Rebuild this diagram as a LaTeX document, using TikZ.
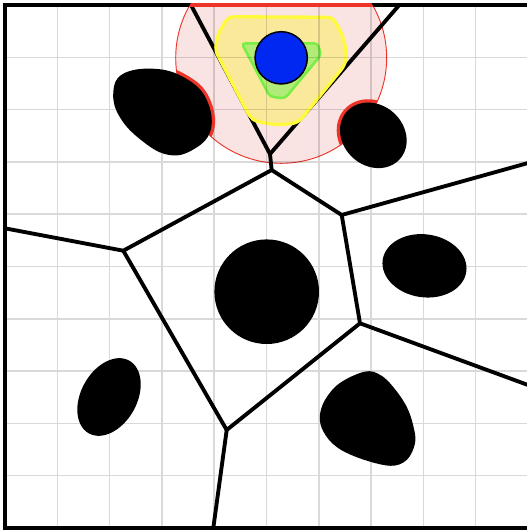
\documentclass[tikz,border=0pt]{standalone}
\definecolor{pinkfill}{RGB}{249,227,227}
\definecolor{redline}{RGB}{236,52,40}
\definecolor{yelstroke}{RGB}{255,250,60}
\definecolor{yelfill}{RGB}{250,233,155}
\definecolor{grnstroke}{RGB}{120,238,70}
\definecolor{grnfill}{RGB}{178,236,120}
\definecolor{bluefill}{RGB}{0,40,240}
\tikzset{
  voro/.style={draw=black, line width=2.1pt, line join=round},
  obstacle/.style={fill=black},
  redhl/.style={draw=redline, line width=3.6pt},
  gridline/.style={draw=black, draw opacity=0.15, line width=0.8pt},
  framebox/.style={draw=black, line width=2.2pt},
}
\begin{document}
\begin{tikzpicture}
\useasboundingbox (-0.0956,-0.0574) rectangle (9.981,10.096);
\fill[white] (-0.0956,-0.0574) rectangle (9.981,10.096);

\coordinate (C) at (5.281,8.990);

% pink circle region
\begin{scope}
  \clip (0,0) rectangle (10,10);
  \fill[pinkfill] (C) circle (2.017);
  \draw[redline, line width=0.5pt] (C) circle (2.017);
\end{scope}

% Voronoi vertices
\coordinate (tl) at (3.556,10);
\coordinate (tr) at (7.539,10);
\coordinate (vt) at (5.067,7.151);
\coordinate (vt2) at (5.099,6.845);
\coordinate (vl) at (2.262,5.302);
\coordinate (le) at (0,5.730);
\coordinate (vr) at (6.438,5.985);
\coordinate (re) at (10,6.979);
\coordinate (vrb) at (6.788,3.914);
\coordinate (rbe) at (10,2.734);
\coordinate (vb) at (4.239,1.874);
\coordinate (be) at (3.983,0);

\draw[voro] (tl) -- (vt);
\draw[voro] (tr) -- (vt);
\draw[voro] (vt) -- (vt2);
\draw[voro] (vt2) -- (vl);
\draw[voro] (vt2) -- (vr);
\draw[voro] (le) -- (vl);
\draw[voro] (vl) -- (vb);
\draw[voro] (vr) -- (re);
\draw[voro] (vr) -- (vrb);
\draw[voro] (vrb) -- (rbe);
\draw[voro] (vrb) -- (vb);
\draw[voro] (vb) -- (be);

% yellow region
\draw[draw=yelstroke, fill=yelfill, line width=1.8pt, rounded corners=3pt]
  (4.270,9.776) -- (6.266,9.765) -- (6.438,9.459) -- (6.533,9.107) -- (6.501,8.853)
  -- (5.608,7.750) -- (5.226,7.706) -- (4.813,7.769) -- (4.685,7.853)
  -- (4.015,9.140) -- (4.078,9.459) -- cycle;

% green region
\draw[draw=grnstroke, fill=grnfill, line width=1.4pt, rounded corners=2pt]
  (4.526,9.268) -- (5.979,9.268) -- (6.042,9.044) -- (5.354,8.216) -- (5.067,8.247) -- cycle;

% grid
\draw[gridline] (0,0) grid (10,10);

% red highlights of obstacle boundaries inside the circle (under the black)
\begin{scope}
  \clip (C) circle (2.017);
  \draw[redhl] plot[smooth cycle, tension=0.7] coordinates {
    (2.07,8.31) (2.25,8.68) (2.87,8.78) (3.45,8.60) (3.85,8.20)
    (3.93,7.60) (3.57,7.22) (3.10,7.14) (2.60,7.42) (2.20,7.85)};
  \draw[redhl] (7.043,7.508) ellipse [x radius=0.68, y radius=0.58, rotate=-42];
\end{scope}

% obstacles
\fill[obstacle] plot[smooth cycle, tension=0.7] coordinates {
    (2.07,8.31) (2.25,8.68) (2.87,8.78) (3.45,8.60) (3.85,8.20)
    (3.93,7.60) (3.57,7.22) (3.10,7.14) (2.60,7.42) (2.20,7.85)};
\fill[obstacle] (7.043,7.508) ellipse [x radius=0.68, y radius=0.58, rotate=-42];
\fill[obstacle] (5.004,4.518) circle (1.0);
\fill[obstacle] (8.021,5.013) ellipse [x radius=0.807, y radius=0.602, rotate=-8];
\fill[obstacle] (1.989,2.505) ellipse [x radius=0.795, y radius=0.535, rotate=61];
\fill[obstacle] plot[smooth cycle, tension=0.6] coordinates {
    (6.40,2.77) (6.88,2.99) (7.17,2.93) (7.42,2.70) (7.68,2.32) (7.81,1.94)
    (7.84,1.62) (7.68,1.30) (7.36,1.19) (6.79,1.33) (6.34,1.55) (6.09,1.84)
    (6.02,2.13) (6.12,2.45)};

% robot
\draw[fill=bluefill, draw=black, line width=0.8pt] (C) circle (0.5);

% frame (right side lies just outside the picture)
\draw[framebox] (10.08,0) -- (0,0) -- (0,10) -- (10.08,10);
\begin{scope}
  \clip (C) circle (2.017);
  \draw[draw=redline, line width=2.4pt] (0,10) -- (10,10);
\end{scope}
\end{tikzpicture}
\end{document}
